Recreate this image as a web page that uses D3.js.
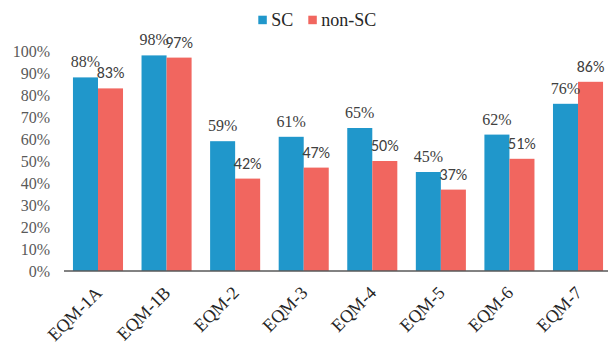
<!DOCTYPE html>
<html>
<head>
<meta charset="utf-8">
<script src="https://cdn.jsdelivr.net/npm/d3@7"></script>
<style>
  html, body { margin: 0; padding: 0; background: #fff; }
  svg { display: block; }
</style>
</head>
<body>
<svg id="chart" width="608" height="347"></svg>
<script>
const categories = ["EQM-1A", "EQM-1B", "EQM-2", "EQM-3", "EQM-4", "EQM-5", "EQM-6", "EQM-7"];
const seriesNames = ["SC", "non-SC"];
const scValues = [0.88, 0.98, 0.59, 0.61, 0.65, 0.45, 0.62, 0.76];
const nonScValues = [0.83, 0.97, 0.42, 0.47, 0.50, 0.37, 0.51, 0.86];
const yTicks = [0, 0.1, 0.2, 0.3, 0.4, 0.5, 0.6, 0.7, 0.8, 0.9, 1.0];

const colors = { "SC": "#2097cb", "non-SC": "#f1665f" };
const serif = "Liberation Serif";
const sans = "Carlito";

const svg = d3.select("#chart");

const x0 = d3.scaleBand().domain(categories).range([63.7, 612.3]).paddingInner(0.27).paddingOuter(0.135);
const x1 = d3.scaleBand().domain(seriesNames).range([0, x0.bandwidth()]);
const y = d3.scaleLinear().domain([0, 1]).range([271, 51]);

const fmt = d3.format(".0%");

// Y axis labels (no line, no ticks)
const yAxis = d3.axisLeft(y).tickValues(yTicks).tickFormat(fmt).tickSize(0).tickPadding(0);
const yg = svg.append("g").attr("transform", "translate(50,0)").call(yAxis);
yg.attr("font-family", null).attr("font-size", null);
yg.select(".domain").remove();
yg.selectAll("text")
  .style("font-family", serif).style("font-size", "16px").attr("fill", "#595959");

const rows = categories.map((c, i) => ({ cat: c, vals: [
  { key: "SC", v: scValues[i] }, { key: "non-SC", v: nonScValues[i] }
]}));

const groups = svg.append("g").selectAll("g").data(rows).join("g")
  .attr("transform", d => `translate(${x0(d.cat)},0)`);

groups.selectAll("rect").data(d => d.vals).join("rect")
  .attr("x", d => x1(d.key))
  .attr("y", d => y(d.v))
  .attr("width", x1.bandwidth())
  .attr("height", d => y(0) - y(d.v))
  .attr("fill", d => colors[d.key]);

groups.selectAll("text").data(d => d.vals).join("text")
  .attr("x", d => x1(d.key) + x1.bandwidth() / 2)
  .attr("y", d => y(d.v) - 10)
  .attr("text-anchor", "middle")
  .style("font-family", d => d.key === "SC" ? serif : sans)
  .style("font-size", "16px")
  .attr("fill", "#404040")
  .text(d => fmt(d.v));

// X axis
const xAxis = d3.axisBottom(x0).tickSize(0).tickPadding(0);
const xg = svg.append("g").attr("transform", `translate(0,${y(0)})`).call(xAxis);
xg.attr("font-family", null).attr("font-size", null);
xg.select(".domain").attr("d", `M64,0H608`).attr("stroke", "#595959").attr("stroke-width", 1.5);
xg.selectAll(".tick text")
  .style("font-family", serif).style("font-size", "18px").attr("fill", "#262626")
  .attr("text-anchor", "end")
  .attr("dy", 0).attr("y", 0)
  .attr("transform", "translate(5,23) rotate(-45)");

// Legend
const legend = svg.append("g");
const legendX = [258.3, 308.3];
seriesNames.forEach((s, i) => {
  legend.append("rect").attr("x", legendX[i]).attr("y", 15.7).attr("width", 8.5).attr("height", 8.5).attr("fill", colors[s]);
  legend.append("text").attr("x", legendX[i] + 13).attr("y", 25.5)
    .style("font-family", serif).style("font-size", "18px").attr("fill", "#262626").text(s);
});
</script>
</body>
</html>
